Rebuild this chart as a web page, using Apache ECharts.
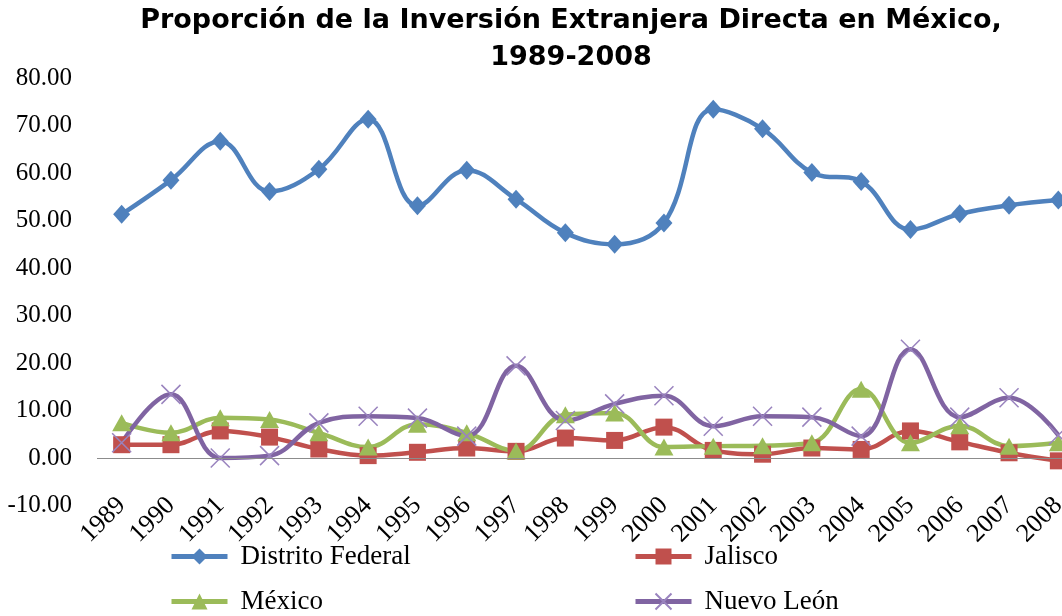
<!DOCTYPE html>
<html>
<head>
<meta charset="utf-8">
<script src="https://cdn.jsdelivr.net/npm/echarts@6/dist/echarts.min.js"></script>
<style>
html,body{margin:0;padding:0;background:#fff;}
#chart{width:1062px;height:616px;}
</style>
</head>
<body>
<div id="chart"></div>
<script>
var years = ['1989','1990','1991','1992','1993','1994','1995','1996','1997','1998','1999','2000','2001','2002','2003','2004','2005','2006','2007','2008'];
var distritoFederal = [51.3, 58.5, 66.7, 56.1, 60.8, 71.3, 53.1, 60.6, 54.5, 47.4, 45.0, 49.5, 73.4, 69.3, 60.1, 58.2, 48.1, 51.4, 53.2, 54.3];
var jalisco = [2.8, 2.8, 5.7, 4.4, 1.9, 0.5, 1.2, 2.1, 1.4, 4.2, 3.7, 6.5, 1.6, 0.8, 2.1, 1.8, 5.7, 3.4, 1.1, -0.6];
var mexico = [7.4, 5.3, 8.5, 8.1, 5.3, 2.3, 7.1, 5.3, 1.5, 9.1, 9.5, 2.3, 2.5, 2.6, 3.2, 14.5, 3.2, 6.8, 2.5, 3.2];
var nuevoLeon = [3.2, 13.4, 0.0, 0.5, 7.4, 8.8, 8.4, 4.6, 19.4, 7.9, 11.4, 13.1, 6.7, 8.8, 8.6, 4.6, 22.9, 8.6, 12.7, 4.8];
var yMin = -10, yMax = 80, yStep = 10;
var titleText = 'Proporción de la Inversión Extranjera Directa en México,\n1989-2008';

var serif = '"Liberation Serif", "Times New Roman", serif';
var chart = echarts.init(document.getElementById('chart'));
var xPath = 'path://M0,0L10,10M10,0L0,10';
var legendText = {fontFamily: serif, fontSize: 27, color: '#000', padding: [0,0,0,8]};
function lg(name, left, top) {
  return {data: [name], left: left, top: top, padding: 0, itemWidth: 56, itemHeight: 20,
    lineStyle: {width: 5}, textStyle: legendText, selectedMode: false};
}
chart.setOption({
  animation: false,
  backgroundColor: '#fff',
  title: {
    text: titleText, left: 571, top: 2, textAlign: 'center', padding: 0,
    textStyle: {fontFamily: '"DejaVu Sans", "Liberation Sans", Arial, sans-serif', fontWeight: 'bold', fontSize: 27, lineHeight: 37, color: '#000'}
  },
  legend: [
    lg('Distrito Federal', 169, 543),
    lg('Jalisco', 633, 543),
    lg('México', 169, 588),
    lg('Nuevo León', 633, 588)
  ],
  grid: {left: 97, width: 986, top: 78, bottom: 110.5, containLabel: false, outerBoundsMode: 'none'},
  xAxis: {
    type: 'category', data: years, boundaryGap: true,
    axisLine: {show: false, onZero: false}, axisTick: {show: false},
    axisLabel: {rotate: 45, margin: -4, interval: 0, fontFamily: serif, fontSize: 26, color: '#000'},
    splitLine: {show: false}
  },
  yAxis: {
    type: 'value', min: yMin, max: yMax, interval: yStep,
    axisLine: {show: false}, axisTick: {show: false}, splitLine: {show: false},
    axisLabel: {margin: 25, fontFamily: serif, fontSize: 25, color: '#000', formatter: function(v){return v.toFixed(2);}}
  },
  series: [
    {name: 'Distrito Federal', type: 'line', data: distritoFederal, smooth: 0.4,
     symbol: 'diamond', symbolSize: [17, 19],
     lineStyle: {width: 4.5, color: '#4F81BD'}, itemStyle: {color: '#4F81BD'},
     markLine: {silent: true, symbol: 'none', label: {show: false},
       lineStyle: {color: '#8C8C8C', width: 1, type: 'solid'}, data: [{yAxis: 0}]}},
    {name: 'Jalisco', type: 'line', data: jalisco, smooth: 0.4,
     symbol: 'rect', symbolSize: 17,
     lineStyle: {width: 4.5, color: '#C0504D'}, itemStyle: {color: '#C0504D'}},
    {name: 'México', type: 'line', data: mexico, smooth: 0.4,
     symbol: 'triangle', symbolSize: [19, 17],
     lineStyle: {width: 4.5, color: '#9BBB59'}, itemStyle: {color: '#9BBB59'}},
    {name: 'Nuevo León', type: 'line', data: nuevoLeon, smooth: 0.4,
     symbol: xPath, symbolSize: 19,
     lineStyle: {width: 4.5, color: '#8064A2'},
     itemStyle: {color: 'rgba(0,0,0,0)', borderColor: '#9983BE', borderWidth: 1.5}}
  ]
});
</script>
</body>
</html>
